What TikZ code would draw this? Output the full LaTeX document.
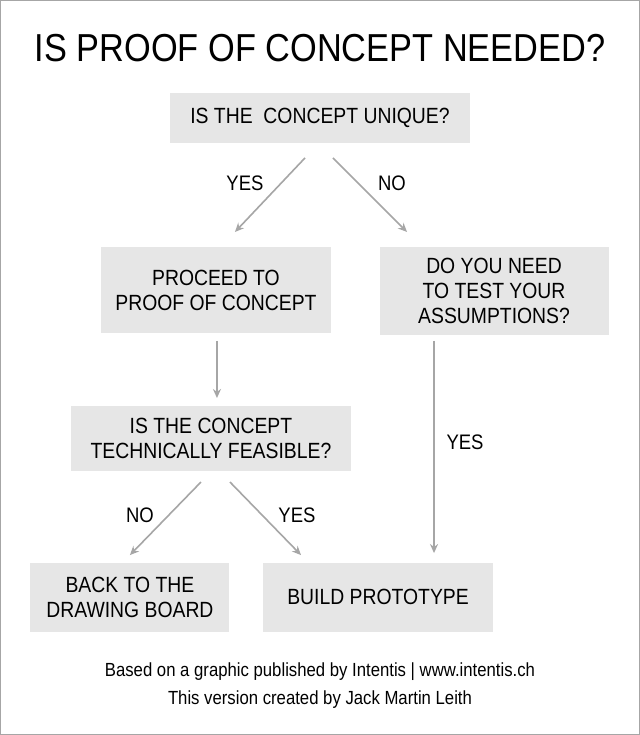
\documentclass[tikz,border=0pt]{standalone}
\usepackage{fontspec}
\setmainfont{Liberation Sans}[FakeStretch=0.88]
\usetikzlibrary{arrows.meta}
\definecolor{boxgray}{HTML}{E6E6E6}
\definecolor{arrgray}{HTML}{A6A6A6}
\begin{document}
\begin{tikzpicture}[x=1pt, y=-1pt, >={Stealth[length=9pt,width=8pt]}]
  \tikzset{
    qbox/.style={fill=boxgray, align=center, font=\fontsize{22}{25}\selectfont, inner sep=0pt},
    lbl/.style={font=\fontsize{21}{24}\selectfont},
    link/.style={->, draw=arrgray, line width=1.6pt}
  }
  \draw[gray!70, line width=0.8pt, fill=white] (0.5,0.5) rectangle (639.5,734.5);

  % title
  \node[font=\fontsize{39}{44}\selectfont] (title) at (320,48) {IS PROOF OF CONCEPT NEEDED?};

  % boxes
  \node[qbox, minimum width=300pt, minimum height=50pt] (unique) at (320,118) {IS THE\ \ CONCEPT UNIQUE?};
  \node[qbox, minimum width=230pt, minimum height=86pt] (proceed) at (216,290) {PROCEED TO\\PROOF OF CONCEPT};
  \node[qbox, minimum width=229pt, minimum height=88pt] (test) at (494,291) {DO YOU NEED\\TO TEST YOUR\\ASSUMPTIONS?};
  \node[qbox, minimum width=280pt, minimum height=65pt] (feasible) at (211,438) {IS THE CONCEPT\\TECHNICALLY FEASIBLE?};
  \node[qbox, minimum width=199pt, minimum height=69pt] (back) at (130,597) {BACK TO THE\\DRAWING BOARD};
  \node[qbox, minimum width=229pt, minimum height=69pt] (build) at (378,597) {BUILD PROTOTYPE};

  % arrow ends
  \coordinate (u1) at (305,158); \coordinate (p1) at (235,232);
  \coordinate (u2) at (333,158); \coordinate (t1) at (407,232);
  \coordinate (p2) at (217,341); \coordinate (f1) at (217,398);
  \coordinate (t2) at (434,341); \coordinate (b1) at (434,553);
  \coordinate (f2) at (201,482); \coordinate (d1) at (130,555);
  \coordinate (f3) at (230,482); \coordinate (b2) at (301,555);

  \draw[link] (u1) -- (p1);
  \draw[link] (u2) -- (t1);
  \draw[link] (p2) -- (f1);
  \draw[link] (t2) -- (b1);
  \draw[link] (f2) -- (d1);
  \draw[link] (f3) -- (b2);

  % labels
  \node[lbl] (yes1) at (245,183) {YES};
  \node[lbl] (no1) at (392,183) {NO};
  \node[lbl] (yes2) at (465,442) {YES};
  \node[lbl] (no2) at (140,515) {NO};
  \node[lbl] (yes3) at (297,515) {YES};

  % footer
  \node[font=\fontsize{19}{22}\selectfont] (src) at (320,672) {Based on a graphic published by Intentis | www.intentis.ch};
  \node[font=\fontsize{19}{22}\selectfont] (ver) at (320,699) {This version created by Jack Martin Leith};
\end{tikzpicture}
\end{document}
